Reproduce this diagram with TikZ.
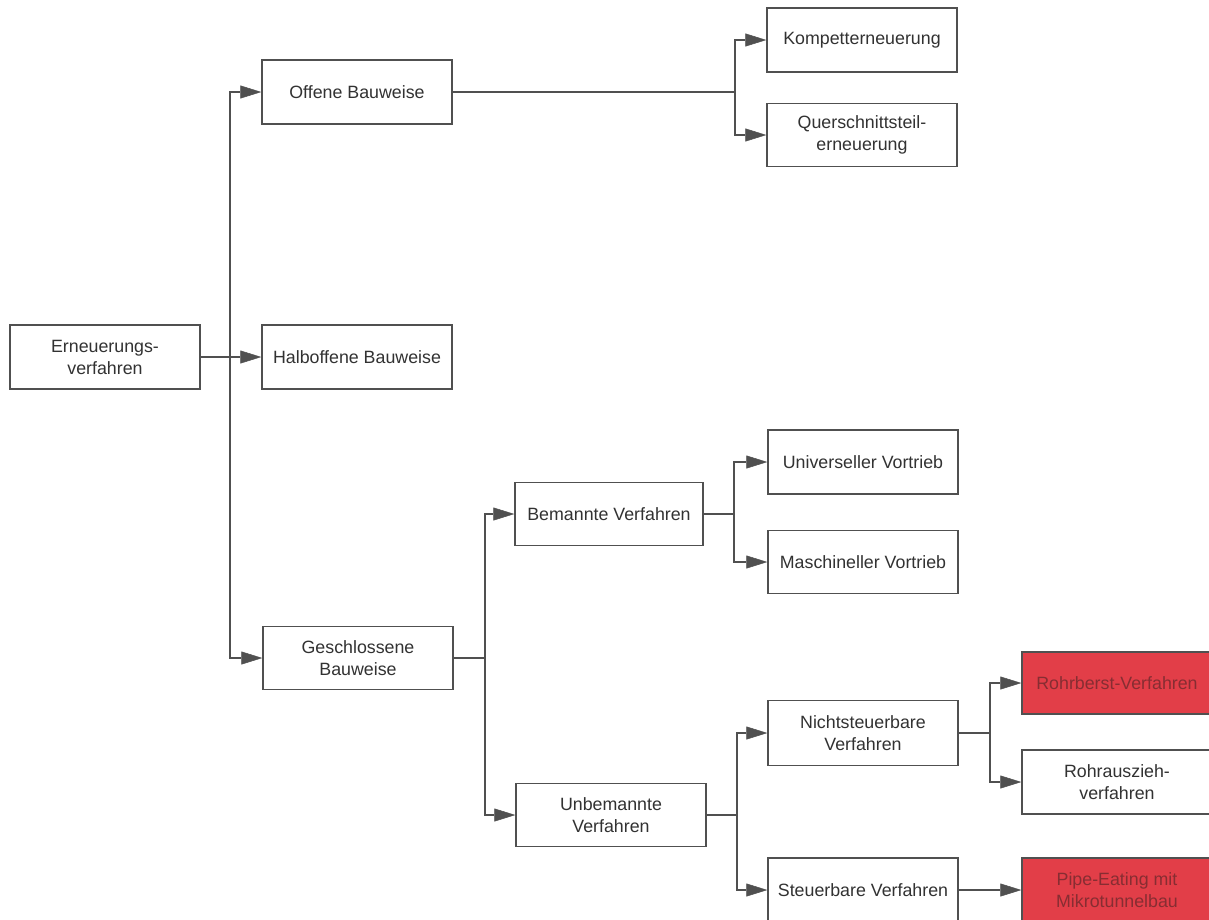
\documentclass[tikz,border=0pt]{standalone}
\usepackage{fontspec}
\setmainfont{Liberation Sans}
\usetikzlibrary{arrows.meta}
\definecolor{linegray}{RGB}{80,80,80}
\definecolor{textgray}{RGB}{50,50,50}
\definecolor{boxred}{RGB}{226,62,72}
\definecolor{redtext}{RGB}{135,45,50}
\tikzset{
  box/.style={draw=linegray, line width=1.4pt, fill=white, minimum width=190pt, minimum height=64pt,
    inner sep=2pt, align=center, text=textgray, font=\fontsize{17.8}{22}\selectfont},
  redbox/.style={box, fill=boxred, text=redtext},
  conn/.style={draw=linegray, line width=1.5pt},
  arr/.style={conn, -{Triangle[length=21pt,width=13pt,fill=linegray,line width=0.5pt]}}
}
\begin{document}
\begin{tikzpicture}[x=1pt,y=-1pt]
\useasboundingbox (0,0) rectangle (1209,919);
\clip (0,0) rectangle (1209,919);
\fill[white] (0,0) rectangle (1209,919);
% nodes
\node[box] (ern) at (105,357) {Erneuerungs-\\verfahren};
\node[box] (off) at (357,92) {Offene Bauweise};
\node[box] (halb) at (357,357) {Halboffene Bauweise};
\node[box, minimum height=63pt] (ges) at (358,658) {Geschlossene\\Bauweise};
\node[box] (komp) at (862,40) {Kompetterneuerung};
\node[box, minimum height=63pt] (quer) at (862,135) {Querschnittsteil-\\erneuerung};
\node[box, minimum width=188pt, minimum height=63pt] (bem) at (609,514) {Bemannte Verfahren};
\node[box] (univ) at (863,462) {Universeller Vortrieb};
\node[box, minimum height=63pt] (masch) at (863,562) {Maschineller Vortrieb};
\node[box, minimum height=63pt] (unb) at (611,815) {Unbemannte\\Verfahren};
\node[box, minimum height=65pt] (nicht) at (863,733) {Nichtsteuerbare\\Verfahren};
\node[box] (steu) at (863,890) {Steuerbare Verfahren};
\node[redbox, minimum height=62pt] (rohrb) at (1117,683) {Rohrberst-Verfahren};
\node[box] (rohra) at (1117,782) {Rohrauszieh-\\verfahren};
\node[redbox] (pipe) at (1117,890) {Pipe-Eating mit\\Mikrotunnelbau};
% junctions
\coordinate (j1) at (230,357);
\coordinate (j2) at (735,92);
\coordinate (j3) at (485,658);
\coordinate (j4) at (734,514);
\coordinate (j5) at (737,815);
\coordinate (j6) at (990,733);
% connectors
\draw[arr] (ern.east) -- (halb.west);
\draw[arr] (j1) |- (off.west);
\draw[arr] (j1) |- (ges.west);
\draw[conn] (off.east) -- (j2);
\draw[arr] (j2) |- (komp.west);
\draw[arr] (j2) |- (quer.west);
\draw[conn] (ges.east) -- (j3);
\draw[arr] (j3) |- (bem.west);
\draw[arr] (j3) |- (unb.west);
\draw[conn] (bem.east) -- (j4);
\draw[arr] (j4) |- (univ.west);
\draw[arr] (j4) |- (masch.west);
\draw[conn] (unb.east) -- (j5);
\draw[arr] (j5) |- (nicht.west);
\draw[arr] (j5) |- (steu.west);
\draw[conn] (nicht.east) -- (j6);
\draw[arr] (j6) |- (rohrb.west);
\draw[arr] (j6) |- (rohra.west);
\draw[arr] (steu.east) -- (pipe.west);
\end{tikzpicture}
\end{document}
